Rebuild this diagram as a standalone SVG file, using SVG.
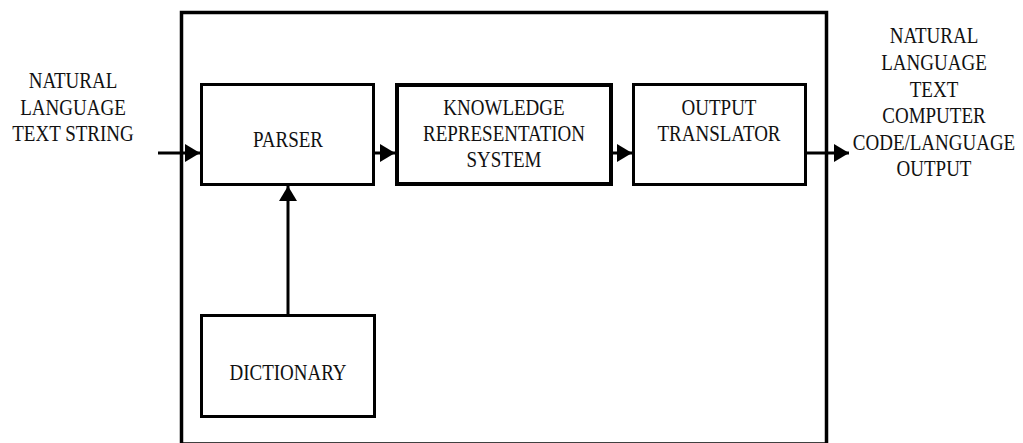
<svg xmlns="http://www.w3.org/2000/svg" width="1023" height="443" viewBox="0 0 1023 443">
  <style>
    .box { fill: #fff; stroke: #000; stroke-width: 3; }
    .frame { fill: none; stroke: #000; stroke-width: 3.5; }
    .wire { fill: none; stroke: #000; stroke-width: 3; }
    .lbl { font-family: "Liberation Serif", "Times New Roman", serif; font-size: 19px; fill: #111; text-anchor: middle; }
  </style>
  <defs>
    <marker id="head" markerUnits="userSpaceOnUse" markerWidth="16" markerHeight="18" refX="15" refY="9" orient="auto">
      <path d="M0,0 L15,9 L0,18 Z" fill="#000"/>
    </marker>
  </defs>
  <rect width="1023" height="443" fill="#fff"/>

  <!-- enclosing system boundary -->
  <rect id="frame" class="frame" x="181.5" y="12.5" width="645" height="431.5"/>

  <g id="connectors">
    <line class="wire" x1="158" y1="153" x2="200" y2="153" marker-end="url(#head)"/>
    <line class="wire" x1="374" y1="153" x2="395" y2="153" marker-end="url(#head)"/>
    <line class="wire" x1="612" y1="153" x2="632" y2="153" marker-end="url(#head)"/>
    <line class="wire" x1="806" y1="153" x2="849" y2="153" marker-end="url(#head)"/>
    <line class="wire" x1="288" y1="315" x2="288" y2="186" marker-end="url(#head)"/>
  </g>

  <g id="input-label">
    <text class="lbl" transform="translate(73,88) scale(1,1.2)">NATURAL</text>
    <text class="lbl" transform="translate(73,115) scale(1,1.2)">LANGUAGE</text>
    <text class="lbl" transform="translate(73,141) scale(1,1.2)">TEXT STRING</text>
  </g>

  <g id="parser">
    <rect class="box" x="201.5" y="84.5" width="172" height="100"/>
    <text class="lbl" transform="translate(288,147) scale(1,1.2)">PARSER</text>
  </g>

  <g id="knowledge">
    <rect class="box" x="397" y="85" width="214" height="99" style="stroke-width:4"/>
    <text class="lbl" transform="translate(504,115) scale(1,1.2)">KNOWLEDGE</text>
    <text class="lbl" transform="translate(504,141) scale(1,1.2)">REPRESENTATION</text>
    <text class="lbl" transform="translate(504,167) scale(1,1.2)">SYSTEM</text>
  </g>

  <g id="translator">
    <rect class="box" x="633.5" y="84.5" width="172" height="100"/>
    <text class="lbl" transform="translate(719,115) scale(1,1.2)">OUTPUT</text>
    <text class="lbl" transform="translate(719,141) scale(1,1.2)">TRANSLATOR</text>
  </g>

  <g id="dictionary">
    <rect class="box" x="201.5" y="315.5" width="173" height="101"/>
    <text class="lbl" transform="translate(288,380) scale(1,1.2)">DICTIONARY</text>
  </g>

  <g id="output-label">
    <text class="lbl" transform="translate(934,43) scale(1,1.2)">NATURAL</text>
    <text class="lbl" transform="translate(934,70) scale(1,1.2)">LANGUAGE</text>
    <text class="lbl" transform="translate(934,97) scale(1,1.2)">TEXT</text>
    <text class="lbl" transform="translate(934,123) scale(1,1.2)">COMPUTER</text>
    <text class="lbl" transform="translate(934,150) scale(1,1.2)">CODE/LANGUAGE</text>
    <text class="lbl" transform="translate(934,176) scale(1,1.2)">OUTPUT</text>
  </g>
</svg>
